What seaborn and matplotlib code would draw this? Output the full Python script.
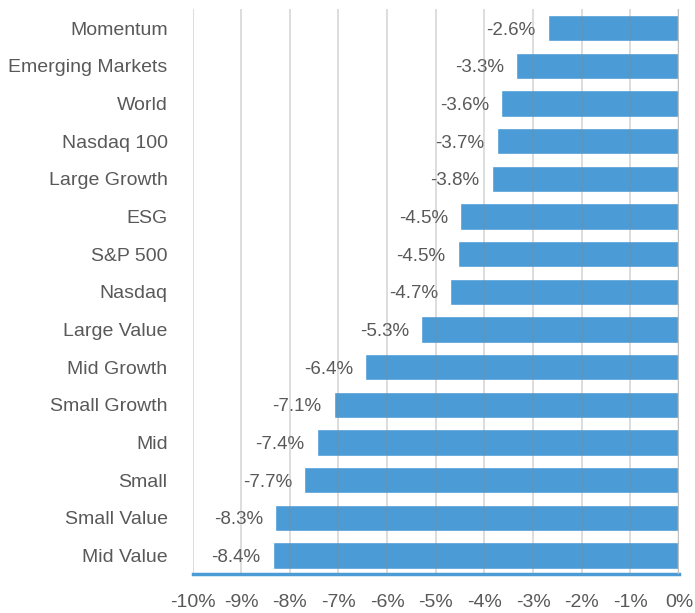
import matplotlib
matplotlib.use("Agg")
import matplotlib.pyplot as plt
import seaborn as sns
import pandas as pd

categories = ["Momentum", "Emerging Markets", "World", "Nasdaq 100", "Large Growth",
              "ESG", "S&P 500", "Nasdaq", "Large Value", "Mid Growth",
              "Small Growth", "Mid", "Small", "Small Value", "Mid Value"]
values = [-2.7, -3.35, -3.65, -3.75, -3.85, -4.5, -4.55, -4.7, -5.3, -6.45,
          -7.1, -7.45, -7.7, -8.3, -8.35]
labels = ["-2.6%", "-3.3%", "-3.6%", "-3.7%", "-3.8%", "-4.5%", "-4.5%", "-4.7%",
          "-5.3%", "-6.4%", "-7.1%", "-7.4%", "-7.7%", "-8.3%", "-8.4%"]
ticks = [-10, -9, -8, -7, -6, -5, -4, -3, -2, -1, 0]

df = pd.DataFrame({"name": categories, "value": values})

sns.set_style("white")
plt.rcParams["font.family"] = ["Liberation Sans", "DejaVu Sans"]

fig, ax = plt.subplots(figsize=(6.95, 6.13), dpi=100)
fig.subplots_adjust(left=0.277, right=0.977, top=0.985, bottom=0.063)

sns.barplot(data=df, x="value", y="name", color="#4a9bd6", saturation=1,
            width=0.7, ax=ax, zorder=2)

# value labels sit just left of each bar end
for i, (v, t) in enumerate(zip(values, labels)):
    ax.text(v - 0.25, i, t, ha="right", va="center_baseline", fontsize=13.5,
            color="#595959", zorder=3)

ax.set_xlim(-10, 0)
ax.set_ylim(14.5, -0.5)
ax.set_xticks(ticks)
ax.set_xticklabels([f"{t}%" for t in ticks])
for t in ticks:
    ax.axvline(t, color="#8a8a8a", lw=1.2, alpha=0.35, zorder=4)
ax.axvline(0, color="#c0c0c0", lw=2.5, zorder=5)

ax.set_xlabel("")
ax.set_ylabel("")
ax.tick_params(axis="x", labelsize=14, labelcolor="#595959", pad=14, length=0)
ax.tick_params(axis="y", labelsize=14, labelcolor="#595959", pad=18, length=0)

for s in ["top", "right", "left"]:
    ax.spines[s].set_visible(False)
ax.spines["bottom"].set_color("#4a9bd6")
ax.spines["bottom"].set_linewidth(2.5)

plt.savefig("out.png", dpi=100)
